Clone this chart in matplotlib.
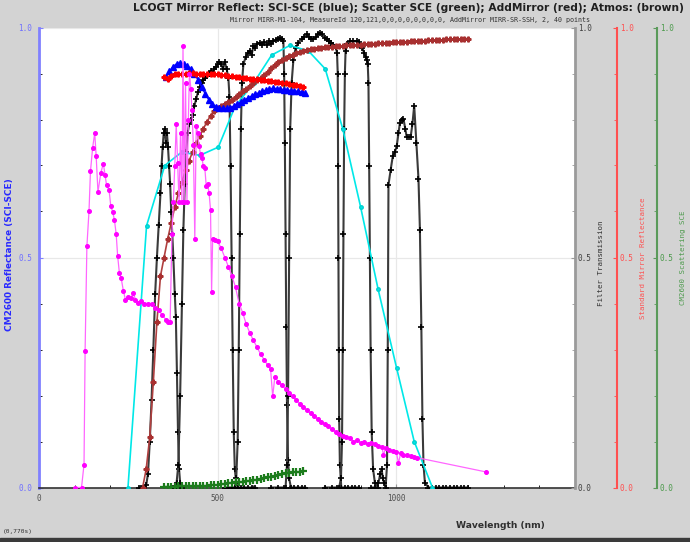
import matplotlib
matplotlib.use("Agg")
import matplotlib.pyplot as plt
from matplotlib.ticker import MultipleLocator, FixedLocator, FormatStrFormatter
from matplotlib.patches import Rectangle

# lamp / source spectrum (magenta)
lamp_wl = [100, 119, 126, 129, 134, 140, 144, 150, 156, 160, 165, 173, 180, 185, 189, 196, 201, 206,
           211, 216, 220, 225, 230, 236, 242, 250, 257, 264, 270, 276, 285, 295, 305, 315, 325, 335,
           345, 355, 362, 367, 372, 376, 380, 384, 388, 392, 396, 400, 403, 406, 410, 414, 418, 421,
           425, 428, 432, 436, 440, 444, 448, 452, 456, 460, 464, 468, 472, 476, 480, 483, 486, 492,
           500, 510, 520, 530, 540, 550, 560, 570, 580, 590, 600, 610, 620, 630, 640, 648, 654, 660,
           670, 680, 690, 700, 710, 720, 730, 740, 750, 760, 770, 780, 790, 800, 810, 820, 830, 840,
           850, 860, 870, 880, 890, 900, 910, 920, 930, 940, 950, 960, 964, 970, 980, 990, 1000, 1006,
           1012, 1020, 1030, 1040, 1050, 1057, 1250]
lamp_val = [0.0, 0.0, 0.05, 0.296, 0.524, 0.602, 0.687, 0.738, 0.771, 0.72, 0.642, 0.684, 0.704, 0.679,
            0.657, 0.647, 0.611, 0.600, 0.582, 0.551, 0.504, 0.466, 0.455, 0.428, 0.408, 0.415, 0.412,
            0.423, 0.408, 0.402, 0.405, 0.40, 0.40, 0.398, 0.39, 0.385, 0.375, 0.365, 0.36, 0.36, 0.55,
            0.62, 0.70, 0.79, 0.705, 0.62, 0.77, 0.62, 0.96, 0.62, 0.88, 0.62, 0.80, 0.90, 0.867, 0.82,
            0.745, 0.54, 0.785, 0.77, 0.742, 0.725, 0.716, 0.698, 0.695, 0.655, 0.66, 0.64, 0.604, 0.426,
            0.54, 0.537, 0.535, 0.52, 0.50, 0.48, 0.46, 0.435, 0.40, 0.38, 0.355, 0.336, 0.32, 0.305,
            0.29, 0.278, 0.266, 0.258, 0.198, 0.24, 0.23, 0.222, 0.214, 0.206, 0.198, 0.19, 0.182, 0.174,
            0.168, 0.161, 0.155, 0.149, 0.143, 0.138, 0.133, 0.127, 0.121, 0.116, 0.111, 0.110, 0.108,
            0.100, 0.103, 0.097, 0.100, 0.094, 0.097, 0.094, 0.090, 0.087, 0.071, 0.085, 0.082, 0.079,
            0.077, 0.053, 0.074, 0.071, 0.070, 0.068, 0.066, 0.065, 0.034]

# detector QE (cyan)
qe_wl = [249, 301, 352, 399, 450, 502, 548, 601, 651, 702, 754, 801, 850, 900, 949, 1001, 1050, 1101]
qe_val = [0.0, 0.569, 0.700, 0.729, 0.722, 0.740, 0.827, 0.880, 0.940, 0.961, 0.949, 0.910, 0.780,
          0.610, 0.431, 0.259, 0.100, 0.0]

# SCI-SCE (blue)
sci_wl = [355, 365, 375, 385, 395, 405, 415, 425, 435, 445, 455, 465, 475, 485, 495, 505, 515, 525,
          535, 545, 555, 565, 575, 585, 595, 605, 615, 625, 635, 645, 655, 665, 675, 685, 695, 705,
          715, 725, 735, 745]
sci_val = [0.893, 0.905, 0.915, 0.921, 0.923, 0.921, 0.917, 0.910, 0.900, 0.886, 0.871, 0.856, 0.843,
           0.834, 0.828, 0.825, 0.824, 0.825, 0.826, 0.829, 0.833, 0.838, 0.842, 0.847, 0.851, 0.855,
           0.858, 0.861, 0.864, 0.866, 0.868, 0.867, 0.866, 0.865, 0.864, 0.863, 0.862, 0.861, 0.859,
           0.857]

# AddMirror (red) and Scatter SCE (green)
mir_wl = [350, 360, 370, 380, 390, 400, 410, 420, 430, 440, 450, 460, 470, 480, 490, 500, 510, 520,
          530, 540, 550, 560, 570, 580, 590, 600, 610, 620, 630, 640, 650, 660, 670, 680, 690, 700,
          710, 720, 730, 740]
mir_val = [0.892, 0.888, 0.895, 0.898, 0.899, 0.900, 0.900, 0.901, 0.901, 0.900, 0.900, 0.899, 0.899,
           0.899, 0.898, 0.898, 0.897, 0.896, 0.895, 0.894, 0.893, 0.892, 0.891, 0.890, 0.889, 0.888,
           0.887, 0.886, 0.885, 0.884, 0.883, 0.882, 0.881, 0.880, 0.879, 0.878, 0.876, 0.874, 0.872,
           0.870]
sce_val = [0.002, 0.002, 0.002, 0.002, 0.003, 0.003, 0.003, 0.003, 0.003, 0.004, 0.004, 0.004, 0.004,
           0.005, 0.005, 0.006, 0.007, 0.008, 0.009, 0.010, 0.011, 0.012, 0.013, 0.014, 0.015, 0.016,
           0.017, 0.019, 0.020, 0.022, 0.023, 0.025, 0.027, 0.029, 0.031, 0.032, 0.033, 0.034, 0.034,
           0.035]

# atmosphere (brown)
atm_wl = [290, 300, 310, 320, 330, 340, 350, 360, 370, 380, 390, 400, 410, 420, 430, 440, 450, 460,
          470, 480, 490, 500, 510, 520, 530, 540, 550, 560, 570, 580, 590, 600, 610, 620, 630, 640,
          650, 660, 670, 680, 690, 700, 710, 720, 730, 740, 750, 760, 770, 780, 790, 800, 810, 820,
          830, 840, 850, 860, 870, 880, 890, 900, 910, 920, 930, 940, 950, 960, 970, 980, 990, 1000,
          1010, 1020, 1030, 1040, 1050, 1060, 1070, 1080, 1090, 1100, 1110, 1120, 1130, 1140, 1150,
          1160, 1170, 1180, 1190, 1200]
atm_val = [0.000, 0.040, 0.110, 0.230, 0.360, 0.460, 0.500, 0.540, 0.575, 0.610, 0.640, 0.665, 0.690,
           0.710, 0.730, 0.748, 0.765, 0.780, 0.795, 0.808, 0.818, 0.824, 0.829, 0.834, 0.838, 0.843,
           0.849, 0.855, 0.861, 0.867, 0.873, 0.880, 0.886, 0.891, 0.897, 0.904, 0.912, 0.919, 0.925,
           0.930, 0.934, 0.938, 0.941, 0.944, 0.947, 0.949, 0.951, 0.953, 0.954, 0.955, 0.956, 0.957,
           0.958, 0.958, 0.959, 0.959, 0.960, 0.961, 0.961, 0.962, 0.963, 0.963, 0.964, 0.964, 0.965,
           0.965, 0.966, 0.966, 0.967, 0.967, 0.968, 0.968, 0.969, 0.969, 0.969, 0.970, 0.970, 0.971,
           0.971, 0.971, 0.972, 0.972, 0.973, 0.973, 0.973, 0.974, 0.974, 0.975, 0.975, 0.975, 0.976,
           0.976]

# filter transmissions (black)
u_wl = [280, 285, 290, 295, 300, 305, 310, 315, 320, 325, 330, 335, 340, 343, 346, 349, 352, 355, 358,
        361, 364, 367, 370, 373, 376, 380, 383, 386, 389, 392, 395, 400]
u_tr = [0, 0, 0, 0, 0.005, 0.03, 0.10, 0.19, 0.30, 0.42, 0.50, 0.57, 0.64, 0.70, 0.74, 0.77, 0.78,
        0.75, 0.77, 0.74, 0.70, 0.66, 0.60, 0.55, 0.50, 0.42, 0.37, 0.25, 0.12, 0.04, 0.01, 0]
b_wl = [375, 380, 385, 390, 395, 400, 404, 408, 412, 416, 420, 425, 430, 435, 440, 445, 450, 455, 460,
        465, 470, 475, 480, 485, 490, 495, 500, 505, 510, 515, 520, 525, 530, 533, 536, 539, 542, 545,
        548, 552, 556, 565, 575, 585, 595, 605]
b_tr = [0, 0, 0.01, 0.05, 0.20, 0.40, 0.56, 0.66, 0.73, 0.77, 0.79, 0.80, 0.81, 0.83, 0.845, 0.86,
        0.87, 0.88, 0.885, 0.89, 0.895, 0.90, 0.905, 0.90, 0.91, 0.915, 0.92, 0.925, 0.92, 0.91, 0.925,
        0.91, 0.89, 0.85, 0.70, 0.50, 0.30, 0.12, 0.04, 0.01, 0, 0, 0, 0, 0, 0]
v_wl = [520, 530, 540, 548, 552, 556, 559, 562, 565, 568, 572, 578, 584, 590, 595, 600, 605, 610, 618,
        625, 630, 637, 645, 650, 656, 662, 668, 675, 680, 684, 686, 688, 690, 692, 694, 697, 700, 705,
        715, 725, 735, 745]
v_tr = [0, 0, 0, 0, 0.02, 0.10, 0.30, 0.55, 0.78, 0.88, 0.92, 0.935, 0.945, 0.95, 0.94, 0.96, 0.955,
        0.965, 0.967, 0.962, 0.968, 0.963, 0.97, 0.965, 0.97, 0.972, 0.975, 0.978, 0.975, 0.97, 0.90,
        0.75, 0.55, 0.35, 0.18, 0.06, 0.02, 0, 0, 0, 0, 0]
r_wl = [650, 670, 685, 690, 694, 697, 700, 703, 707, 712, 718, 726, 735, 742, 749, 755, 762, 768, 775,
        781, 787, 793, 799, 805, 812, 818, 824, 830, 834, 836, 837, 838, 839, 840, 842, 846, 855, 865,
        875, 885, 895]
r_tr = [0, 0, 0, 0, 0.05, 0.20, 0.50, 0.78, 0.88, 0.93, 0.955, 0.967, 0.975, 0.98, 0.985, 0.98, 0.975,
        0.974, 0.98, 0.986, 0.988, 0.985, 0.978, 0.974, 0.97, 0.966, 0.963, 0.958, 0.945, 0.90, 0.70,
        0.50, 0.30, 0.15, 0.05, 0, 0, 0, 0, 0, 0]
i_wl = [800, 820, 835, 840, 845, 848, 850, 852, 854, 856, 858, 862, 870, 880, 890, 895, 900, 905, 910,
        914, 917, 920, 922, 924, 926, 928, 931, 935, 940, 950]
i_tr = [0, 0, 0, 0, 0.02, 0.10, 0.30, 0.55, 0.78, 0.90, 0.95, 0.965, 0.97, 0.97, 0.97, 0.968, 0.96,
        0.955, 0.945, 0.935, 0.93, 0.92, 0.88, 0.70, 0.50, 0.30, 0.12, 0.04, 0.01, 0]
z_wl = [930, 940, 950, 955, 959, 962, 966, 970, 974, 976, 978, 984, 990, 996, 1001, 1006, 1010, 1015,
        1020, 1025, 1029, 1035, 1040, 1045, 1050, 1056, 1062, 1066, 1070, 1073, 1076, 1080, 1090,
        1100, 1110, 1120, 1130, 1140, 1150, 1160, 1170, 1180, 1190, 1200]
z_tr = [0, 0, 0.01, 0.03, 0.04, 0.02, 0.01, 0.0, 0.05, 0.30, 0.658, 0.69, 0.72, 0.73, 0.742, 0.77,
        0.793, 0.80, 0.801, 0.78, 0.762, 0.762, 0.762, 0.79, 0.83, 0.75, 0.671, 0.56, 0.35, 0.15, 0.05,
        0.01, 0, 0, 0, 0, 0, 0, 0, 0, 0, 0, 0, 0]

x_ticks = [0, 500, 1000]

W, H = 690, 542
bg = '#d3d3d3'
fig = plt.figure(figsize=(W / 100, H / 100), dpi=100, facecolor=bg)
ax = fig.add_axes([39 / W, 1 - 487.5 / H, (575 - 39) / W, (487.5 - 27.5) / H])
ax.set_facecolor('white')
ax.set_xlim(0, 1500)
ax.set_ylim(0, 1)

# filters first, then the other curves on top
for wl, tr in [(u_wl, u_tr), (b_wl, b_tr), (v_wl, v_tr), (r_wl, r_tr), (i_wl, i_tr), (z_wl, z_tr)]:
    ax.plot(wl, tr, color='#3a3a3a', lw=1.5, marker='+', ms=4, mec='black', mew=1.2, zorder=3)

ax.plot(qe_wl, qe_val, color='#00e8e8', lw=1.2, marker='o', ms=2.5, mec='#00d0d0', zorder=4)
ax.plot(atm_wl, atm_val, color='#b04040', lw=1.2, marker='P', ms=3.5, mec='#a83030',
        mfc='#a83030', zorder=4)
ax.plot(sci_wl, sci_val, color='blue', lw=1, marker='^', ms=4.5, zorder=5)
ax.plot(mir_wl, mir_val, color='red', lw=1, marker='P', ms=3.5, zorder=5)
ax.plot(mir_wl, sce_val, color='#1c7c1c', lw=1, marker='+', ms=6, mew=1.6, zorder=5)
ax.plot(lamp_wl, lamp_val, color='#ff66ff', lw=0.9, marker='o', ms=2.6, mfc='#ff00ff',
        mec='#ff00ff', zorder=6)

ax.xaxis.set_major_locator(FixedLocator(x_ticks))
ax.xaxis.set_minor_locator(MultipleLocator(100))
ax.yaxis.set_major_locator(MultipleLocator(0.5))
ax.yaxis.set_minor_locator(MultipleLocator(0.1))
ax.yaxis.set_major_formatter(FormatStrFormatter('%.1f'))
ax.grid(True, which='major', color='#e8e8e8', lw=0.9)
ax.set_axisbelow(True)
ax.tick_params(which='both', direction='in', labelsize=5.5)
ax.tick_params(which='major', length=3)
ax.tick_params(which='minor', length=2)
ax.tick_params(axis='x', colors='#9a9a9a', labelcolor='#505050', pad=5)
ax.tick_params(axis='y', colors='#8080ff', labelcolor='#7070ff', pad=5)
for lbl in ax.get_xticklabels() + ax.get_yticklabels():
    lbl.set_family('DejaVu Sans Mono')
ax.spines['top'].set_visible(False)
ax.spines['right'].set_visible(False)
ax.spines['left'].set_color('#8080ff')
ax.spines['left'].set_linewidth(2)
ax.spines['bottom'].set_color('#333333')
ax.spines['bottom'].set_linewidth(1.2)

# three right-hand axes, all 0..1
for off, col, lcol in [(0, '#9a9a9a', '#404040'), (30.24, '#ff5050', '#ff5050'), (59.04, '#5a9a5a', '#4c9a4c')]:
    t = ax.twinx()
    t.set_ylim(0, 1)
    for s in ['left', 'top', 'bottom']:
        t.spines[s].set_visible(False)
    t.spines['right'].set_position(('outward', off))
    t.spines['right'].set_color(col)
    t.spines['right'].set_linewidth(2 if off == 0 else 1.5)
    t.yaxis.set_major_locator(MultipleLocator(0.5))
    t.yaxis.set_minor_locator(MultipleLocator(0.1))
    t.yaxis.set_major_formatter(FormatStrFormatter('%.1f'))
    t.tick_params(which='both', direction='in', colors=col, labelcolor=lcol, labelsize=5.5, pad=2)
    t.tick_params(which='major', length=3)
    t.tick_params(which='minor', length=2)
    for lbl in t.get_yticklabels():
        lbl.set_family('DejaVu Sans Mono')

fig.text(10 / W, 1 - 255 / H, 'CM2600 Reflectance (SCI-SCE)', rotation=90, ha='center', va='center',
         fontsize=6.4, fontweight='bold', color='#2a2aff')
fig.text(601 / W, 1 - 263 / H, 'Filter Transmission', rotation=90, ha='center', va='center',
         fontsize=5.3, family='DejaVu Sans Mono', color='#303030')
fig.text(643 / W, 1 - 258 / H, 'Standard Mirror Reflectance', rotation=90, ha='center', va='center',
         fontsize=5.3, family='DejaVu Sans Mono', color='#ff5050')
fig.text(683 / W, 1 - 258 / H, 'CM2600 Scattering SCE', rotation=90, ha='center', va='center',
         fontsize=5.3, family='DejaVu Sans Mono', color='#4c9a4c')

fig.text(684 / W, 1 - 8 / H,
         'LCOGT Mirror Reflect: SCI-SCE (blue); Scatter SCE (green); AddMirror (red); Atmos: (brown)',
         ha='right', va='center', fontsize=7.7, fontweight='bold', family='DejaVu Sans',
         color='#202020')
fig.text(590 / W, 1 - 20 / H,
         'Mirror MIRR-M1-104, MeasureId 120,121,0,0,0,0,0,0,0,0, AddMirror MIRR-SR-SSH, 2, 40 points',
         ha='right', va='center', fontsize=4.8, family='DejaVu Sans Mono', color='#303030')
fig.text(500 / W, 1 - 525 / H, 'Wavelength (nm)', ha='center', va='center', fontsize=6.6,
         fontweight='bold', color='#303030')
fig.text(3 / W, 1 - 532 / H, '(0,770s)', ha='left', va='center', fontsize=4.5,
         family='DejaVu Sans Mono', color='#303030')
fig.add_artist(Rectangle((0, 0), 1, 4 / H, transform=fig.transFigure, color='#3a3a3a'))

fig.savefig('out.png', dpi=100, facecolor=bg)
